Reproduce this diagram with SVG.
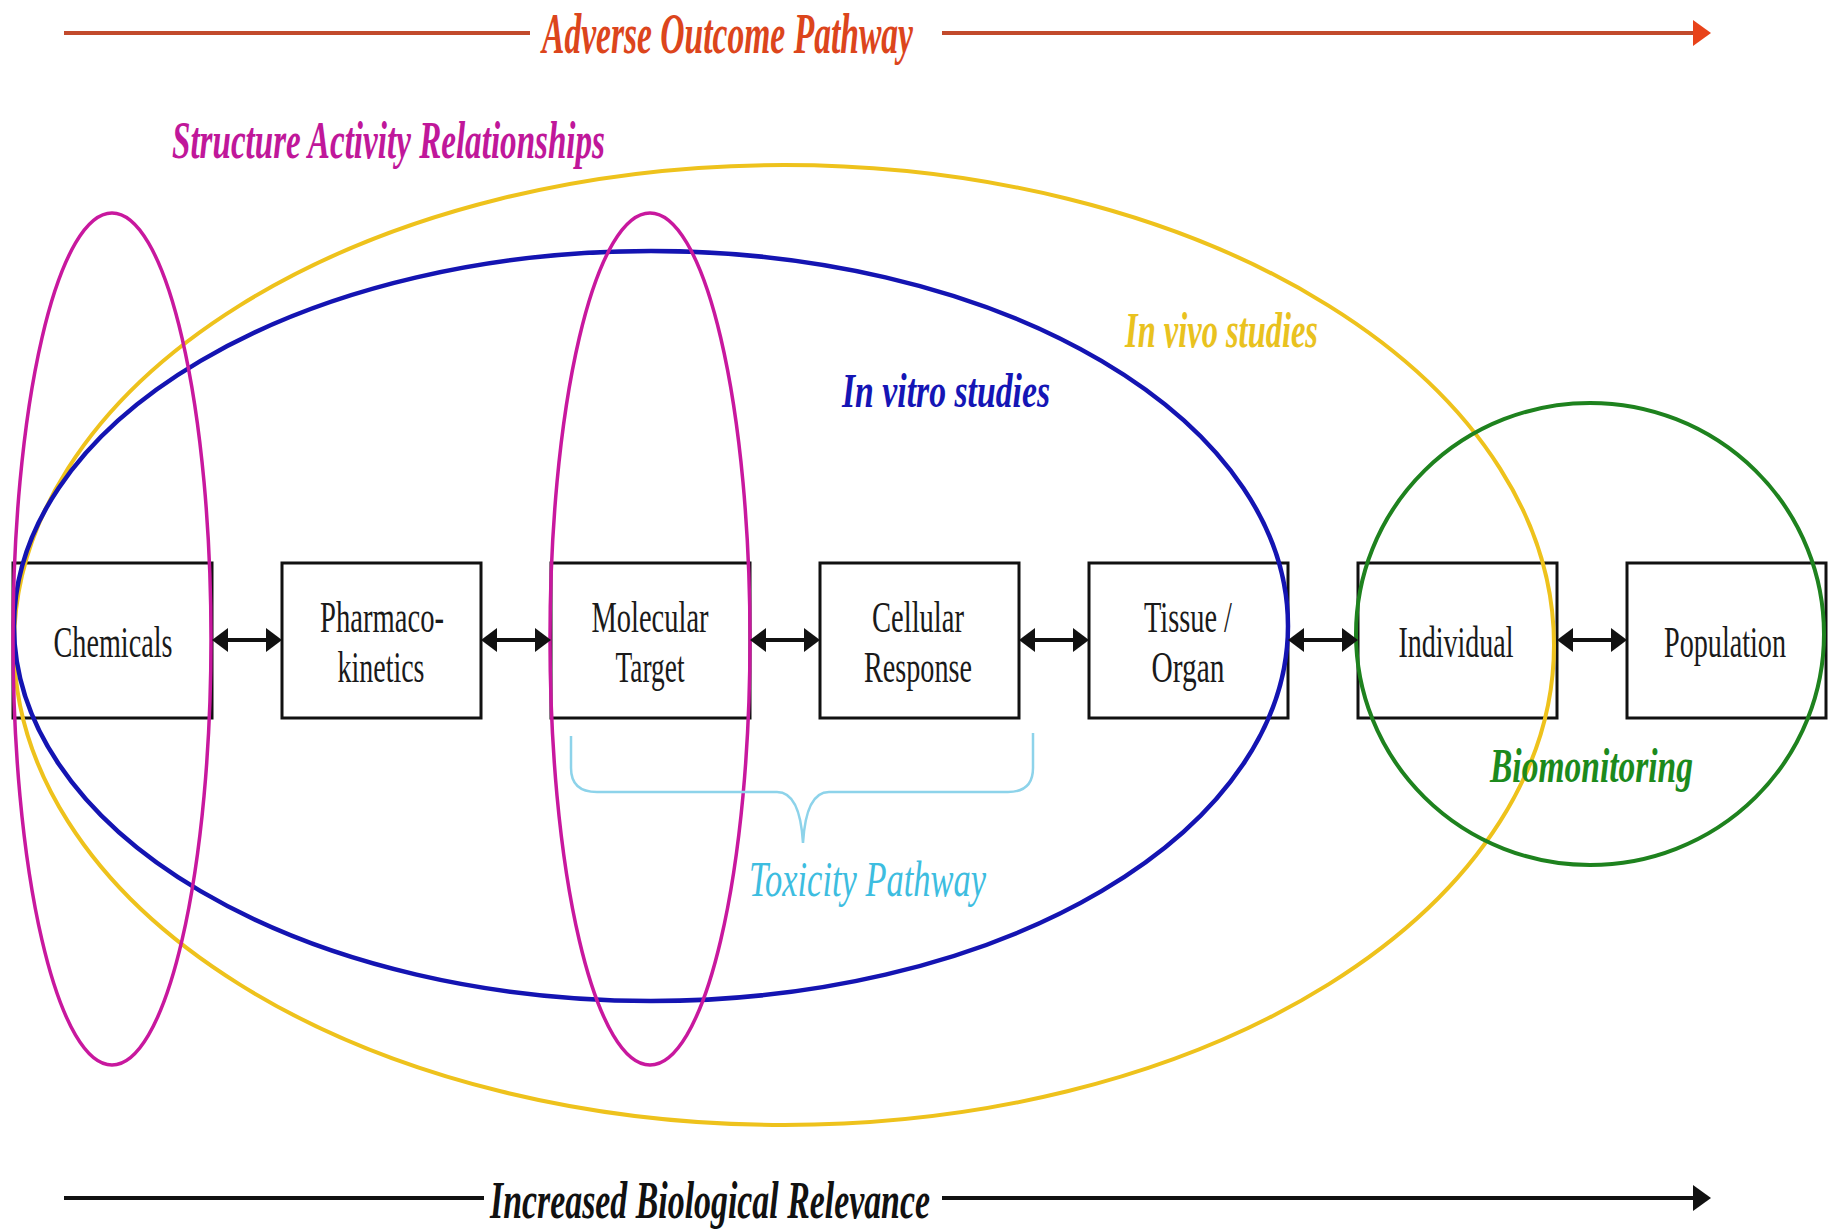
<svg xmlns="http://www.w3.org/2000/svg" width="1828" height="1230" viewBox="0 0 1828 1230">
  <style>
    .box { fill: #ffffff; stroke: #111111; stroke-width: 3; }
    .boxtxt { font-family: "Liberation Serif", "Times New Roman", serif; font-size: 45px; fill: #1a1a1a; text-anchor: middle; }
    .lbl { font-family: "Liberation Serif", "Times New Roman", serif; font-style: italic; font-weight: bold; }
    .ring { fill: none; }
    .link { stroke: #111111; stroke-width: 4; fill: none; }
  </style>
  <defs>
    <marker id="headBlack" viewBox="0 0 16 24" markerWidth="16" markerHeight="24" markerUnits="userSpaceOnUse" refX="11" refY="12" orient="auto-start-reverse">
      <path d="M0,0 L16,12 L0,24 Z" fill="#111111"/>
    </marker>
    <marker id="headRed" viewBox="0 0 18 26" markerWidth="18" markerHeight="26" markerUnits="userSpaceOnUse" refX="12" refY="13" orient="auto">
      <path d="M0,0 L18,13 L0,26 Z" fill="#e8431a"/>
    </marker>
    <marker id="headAxis" viewBox="0 0 18 26" markerWidth="18" markerHeight="26" markerUnits="userSpaceOnUse" refX="12" refY="13" orient="auto">
      <path d="M0,0 L18,13 L0,26 Z" fill="#111111"/>
    </marker>
  </defs>

  <rect x="0" y="0" width="1828" height="1230" fill="#ffffff"/>

  <!-- pathway steps -->
  <g id="node-chemicals">
    <rect class="box" x="13" y="563" width="199" height="155"/>
    <text class="boxtxt" x="113" y="657" textLength="119" lengthAdjust="spacingAndGlyphs">Chemicals</text>
  </g>
  <g id="node-pharmacokinetics">
    <rect class="box" x="282" y="563" width="199" height="155"/>
    <text class="boxtxt" x="382" y="632" textLength="124" lengthAdjust="spacingAndGlyphs">Pharmaco-</text>
    <text class="boxtxt" x="381" y="682" textLength="87" lengthAdjust="spacingAndGlyphs">kinetics</text>
  </g>
  <g id="node-molecular-target">
    <rect class="box" x="551" y="563" width="199" height="155"/>
    <text class="boxtxt" x="650" y="632" textLength="117" lengthAdjust="spacingAndGlyphs">Molecular</text>
    <text class="boxtxt" x="650" y="682" textLength="69" lengthAdjust="spacingAndGlyphs">Target</text>
  </g>
  <g id="node-cellular-response">
    <rect class="box" x="820" y="563" width="199" height="155"/>
    <text class="boxtxt" x="918" y="632" textLength="92" lengthAdjust="spacingAndGlyphs">Cellular</text>
    <text class="boxtxt" x="918" y="682" textLength="108" lengthAdjust="spacingAndGlyphs">Response</text>
  </g>
  <g id="node-tissue-organ">
    <rect class="box" x="1089" y="563" width="199" height="155"/>
    <text class="boxtxt" x="1188" y="632" textLength="88" lengthAdjust="spacingAndGlyphs">Tissue /</text>
    <text class="boxtxt" x="1188" y="682" textLength="73" lengthAdjust="spacingAndGlyphs">Organ</text>
  </g>
  <g id="node-individual">
    <rect class="box" x="1358" y="563" width="199" height="155"/>
    <text class="boxtxt" x="1456" y="657" textLength="115" lengthAdjust="spacingAndGlyphs">Individual</text>
  </g>
  <g id="node-population">
    <rect class="box" x="1627" y="563" width="199" height="155"/>
    <text class="boxtxt" x="1725" y="657" textLength="122" lengthAdjust="spacingAndGlyphs">Population</text>
  </g>

  <!-- study domains drawn as rings over the steps -->
  <g id="domain-in-vivo">
    <ellipse class="ring" cx="784" cy="645" rx="770" ry="480" stroke="#eec21c" stroke-width="4"/>
    <text class="lbl" x="1125" y="347" font-size="50" fill="#e9c21f" textLength="193" lengthAdjust="spacingAndGlyphs">In vivo studies</text>
  </g>
  <g id="domain-in-vitro">
    <ellipse class="ring" cx="651" cy="626" rx="637" ry="375" stroke="#1414b2" stroke-width="4.5"/>
    <text class="lbl" x="842" y="407" font-size="48" fill="#1515b5" textLength="208" lengthAdjust="spacingAndGlyphs">In vitro studies</text>
  </g>
  <g id="domain-sar">
    <ellipse class="ring" cx="112" cy="639" rx="99" ry="426" stroke="#c8189e" stroke-width="3.5"/>
    <ellipse class="ring" cx="650" cy="639" rx="100" ry="426" stroke="#c8189e" stroke-width="3.5"/>
    <text class="lbl" x="172" y="158" font-size="52" fill="#c0179a" textLength="433" lengthAdjust="spacingAndGlyphs">Structure Activity Relationships</text>
  </g>
  <g id="domain-biomonitoring">
    <ellipse class="ring" cx="1590" cy="634" rx="234" ry="231" stroke="#1e821e" stroke-width="4"/>
    <text class="lbl" x="1490" y="782" font-size="48" fill="#1c8a1c" textLength="203" lengthAdjust="spacingAndGlyphs">Biomonitoring</text>
  </g>
  <g id="toxicity-pathway">
    <path d="M571,736 L571,768 Q571,792 597,792 L777,792 Q800,792 803,843 Q806,792 829,792 L1008,792 Q1033,792 1033,768 L1033,733" fill="none" stroke="#8dd3ea" stroke-width="2.5"/>
    <text x="749" y="896" font-family="'Liberation Serif', 'Times New Roman', serif" font-style="italic" font-size="50" fill="#3dbde0" textLength="237" lengthAdjust="spacingAndGlyphs">Toxicity Pathway</text>
  </g>

  <!-- connectors between steps and the two axes -->
  <g id="connectors">
    <line class="link" x1="217" y1="640" x2="277" y2="640" marker-start="url(#headBlack)" marker-end="url(#headBlack)"/>
    <line class="link" x1="486" y1="640" x2="546" y2="640" marker-start="url(#headBlack)" marker-end="url(#headBlack)"/>
    <line class="link" x1="755" y1="640" x2="815" y2="640" marker-start="url(#headBlack)" marker-end="url(#headBlack)"/>
    <line class="link" x1="1024" y1="640" x2="1084" y2="640" marker-start="url(#headBlack)" marker-end="url(#headBlack)"/>
    <line class="link" x1="1293" y1="640" x2="1353" y2="640" marker-start="url(#headBlack)" marker-end="url(#headBlack)"/>
    <line class="link" x1="1562" y1="640" x2="1622" y2="640" marker-start="url(#headBlack)" marker-end="url(#headBlack)"/>

    <g id="axis-aop">
      <line x1="64" y1="33" x2="530" y2="33" stroke="#c24a2c" stroke-width="4"/>
      <line x1="942" y1="33" x2="1705" y2="33" stroke="#c24a2c" stroke-width="4" marker-end="url(#headRed)"/>
      <text class="lbl" x="542" y="53" font-size="56" fill="#dc451c" textLength="371" lengthAdjust="spacingAndGlyphs">Adverse Outcome Pathway</text>
    </g>
    <g id="axis-relevance">
      <line x1="64" y1="1198" x2="484" y2="1198" stroke="#111111" stroke-width="4"/>
      <line x1="942" y1="1198" x2="1705" y2="1198" stroke="#111111" stroke-width="4" marker-end="url(#headAxis)"/>
      <text class="lbl" x="490" y="1218" font-size="52" fill="#111111" textLength="440" lengthAdjust="spacingAndGlyphs">Increased Biological Relevance</text>
    </g>
  </g>
</svg>
